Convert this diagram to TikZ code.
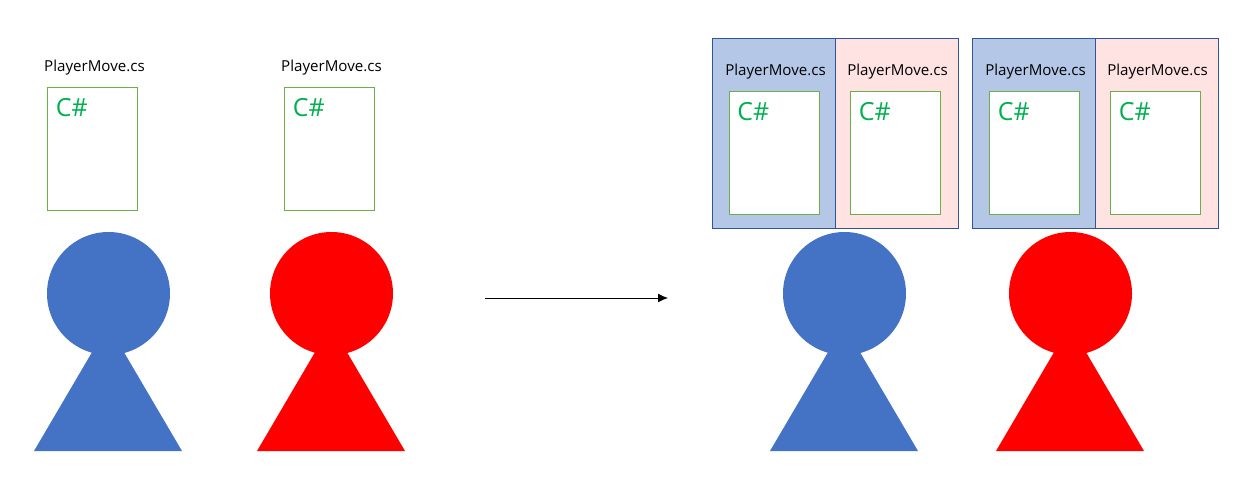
\documentclass[tikz,border=0pt]{standalone}
\usepackage{fontspec}
\setmainfont{Open Sans}
\usetikzlibrary{arrows.meta}
\definecolor{playerblue}{HTML}{4472C4}
\definecolor{panelblue}{HTML}{B4C7E7}
\definecolor{panelpink}{HTML}{FFE2E2}
\definecolor{panelline}{HTML}{2F5597}
\definecolor{scriptline}{HTML}{70AD47}
\definecolor{sharpgreen}{HTML}{00B050}
\tikzset{
	scriptbox/.style={draw=scriptline, fill=white, line width=0.02cm, minimum width=1.8cm, minimum height=2.46cm, inner sep=0, outer sep=0},
	filename/.style={font=\fontsize{8.6pt}{11pt}\selectfont, inner sep=0},
	sharp/.style={font=\fontsize{14.2pt}{16pt}\selectfont, text=sharpgreen, inner sep=0, anchor=west},
	panel/.style={draw=panelline, line width=0.02cm, minimum width=2.46cm, minimum height=3.8cm, inner sep=0, outer sep=0}
}
\def\player#1#2{
	\fill[#2] (#1-74, 451) -- (#1, 325) -- (#1+74, 451) -- cycle;
	\fill[#2] (#1+0.5, 293.5) circle (61.5);
}
\begin{document}
\begin{tikzpicture}[x=0.02cm, y=-0.02cm]
	\useasboundingbox (0, 0) rectangle (1258, 498);
	%%%%% LEFT %%%%%
	\node[filename] (nameA) at (94.5, 67.5) {PlayerMove.cs};
	\node[scriptbox] (scriptA) at (92.5, 149) {};
	\node[sharp] (sharpA) at (55.5, 108) {C\#};
	\node[filename] (nameB) at (331.5, 67.5) {PlayerMove.cs};
	\node[scriptbox] (scriptB) at (329.5, 149) {};
	\node[sharp] (sharpB) at (292.5, 108) {C\#};
	\player{108}{playerblue}
	\player{331}{red}
	%%%%% ARROW %%%%%
	\coordinate (arrowstart) at (485, 298);
	\coordinate (arrowend) at (668, 298);
	\draw[-{Latex[length=0.2cm, width=0.18cm]}, line width=0.02cm] (arrowstart) -- (arrowend);
	%%%%% RIGHT %%%%%
	\node[panel, fill=panelblue] (panelA) at (774, 133.5) {};
	\node[panel, fill=panelpink] (panelB) at (897, 133.5) {};
	\node[panel, fill=panelblue] (panelC) at (1034, 133.5) {};
	\node[panel, fill=panelpink] (panelD) at (1157, 133.5) {};
	\node[filename] (nameC) at (775.5, 71.5) {PlayerMove.cs};
	\node[scriptbox] (scriptC) at (774.5, 153) {};
	\node[sharp] (sharpC) at (737, 112) {C\#};
	\node[filename] (nameD) at (897.5, 71.5) {PlayerMove.cs};
	\node[scriptbox] (scriptD) at (895.5, 153) {};
	\node[sharp] (sharpD) at (858.5, 112) {C\#};
	\node[filename] (nameE) at (1035.5, 71.5) {PlayerMove.cs};
	\node[scriptbox] (scriptE) at (1034.5, 153) {};
	\node[sharp] (sharpE) at (997.5, 112) {C\#};
	\node[filename] (nameF) at (1157.5, 71.5) {PlayerMove.cs};
	\node[scriptbox] (scriptF) at (1155.5, 153) {};
	\node[sharp] (sharpF) at (1118.5, 112) {C\#};
	\player{844}{playerblue}
	\player{1070}{red}
\end{tikzpicture}
\end{document}
